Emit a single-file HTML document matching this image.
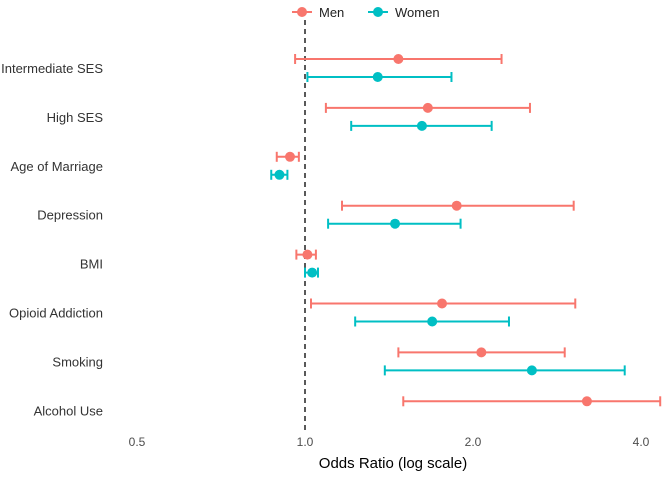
<!DOCTYPE html>
<html><head><meta charset="utf-8"><style>
body{margin:0;background:#fff;font-family:"Liberation Sans",sans-serif}
svg text{font-family:"Liberation Sans",sans-serif}
</style></head><body>
<svg id="chart" width="669" height="475" xmlns="http://www.w3.org/2000/svg"></svg>
<script>
const categories=["Intermediate SES","High SES","Age of Marriage","Depression","BMI","Opioid Addiction","Smoking","Alcohol Use"];
const menOR=[1.47,1.66,0.94,1.87,1.01,1.76,2.07,3.2];
const menLo=[0.96,1.09,0.89,1.165,0.965,1.025,1.47,1.50];
const menHi=[2.25,2.53,0.975,3.03,1.046,3.05,2.92,4.33];
const womenOR=[1.35,1.62,0.90,1.45,1.03,1.69,2.55,null];
const womenLo=[1.01,1.21,0.87,1.10,1.0,1.23,1.39,null];
const womenHi=[1.83,2.16,0.93,1.90,1.055,2.32,3.74,null];
const ticks=[0.5,1.0,2.0,4.0];
const tickLabels=["0.5","1.0","2.0","4.0"];
const NS="http://www.w3.org/2000/svg";
const svg=document.getElementById('chart');
const x=v=>305+168*Math.log2(v);
const y=i=>68+48.9*i;
function el(t,a,p){const e=document.createElementNS(NS,t);for(const k in a)e.setAttribute(k,a[k]);(p||svg).appendChild(e);return e;}
const ref=el('line',{x1:x(1),x2:x(1),y1:20,y2:430,stroke:'#222','stroke-width':1.5,'stroke-dasharray':'5,4'});


categories.forEach((c,i)=>{
  const t=el('text',{x:103,y:y(i)+5,'text-anchor':'end','font-size':13,fill:'#333'});t.textContent=c;
  
  
});
ticks.forEach((v,i)=>{
  const t=el('text',{x:x(v),y:446,'text-anchor':'middle','font-size':12,fill:'#4d4d4d'});t.textContent=tickLabels[i];
  
  
});
const xt=el('text',{x:393,y:468,'text-anchor':'middle','font-size':15,fill:'#000'});xt.textContent='Odds Ratio (log scale)';


function series(or,lo,hi,col,off,name){
  or.forEach((v,i)=>{
    if(v==null)return;
    const g=el('g',{});
    
    
    const yy=y(i)+off;
    el('line',{x1:x(lo[i]),x2:x(hi[i]),y1:yy,y2:yy,stroke:col,'stroke-width':2},g);
    el('line',{x1:x(lo[i]),x2:x(lo[i]),y1:yy-5,y2:yy+5,stroke:col,'stroke-width':2},g);
    el('line',{x1:x(hi[i]),x2:x(hi[i]),y1:yy-5,y2:yy+5,stroke:col,'stroke-width':2},g);
    el('circle',{cx:x(v),cy:yy,r:5,fill:col},g);
  });
}
series(menOR,menLo,menHi,'#F8766D',-9,'men');
series(womenOR,womenLo,womenHi,'#00BFC4',9,'women');
[['Men','#F8766D',302],['Women','#00BFC4',378]].forEach(([n,c,lx])=>{
  const g=el('g',{});
  
  
  el('line',{x1:lx-10,x2:lx+10,y1:12,y2:12,stroke:c,'stroke-width':2},g);
  el('circle',{cx:lx,cy:12,r:5,fill:c},g);
  const t=el('text',{x:lx+17,y:17,'font-size':13,fill:'#222'},g);t.textContent=n;
});
</script>
</body></html>
